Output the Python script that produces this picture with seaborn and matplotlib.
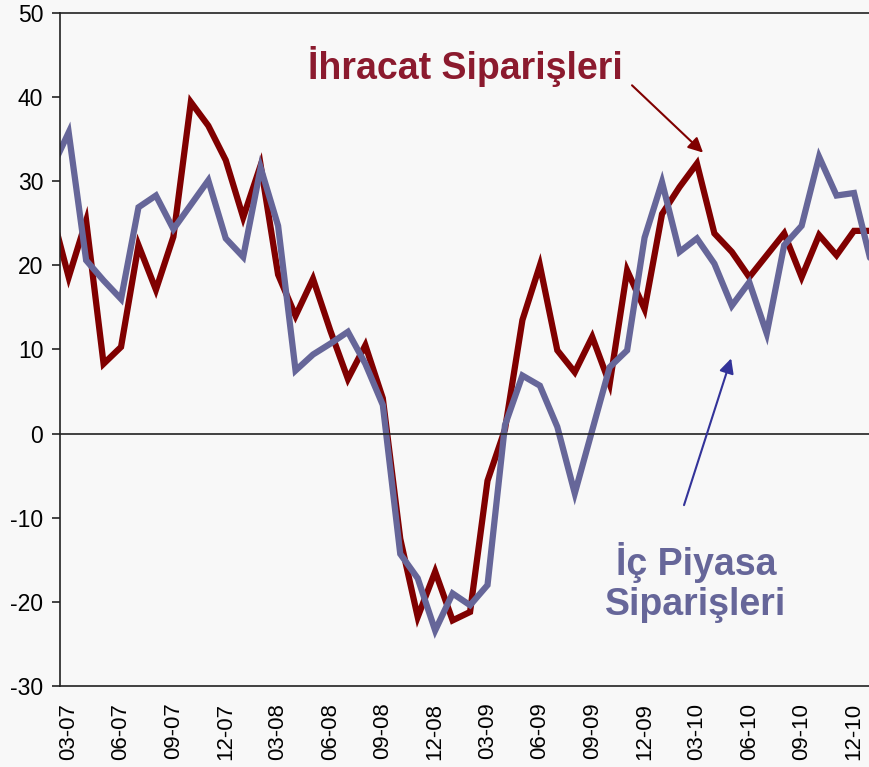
import matplotlib
matplotlib.use("Agg")
import matplotlib.pyplot as plt
import numpy as np
import pandas as pd
import seaborn as sns

# monthly categories, 02-07 .. 01-11 (first and last point fall just outside the view)
months = pd.date_range("2007-02-01", periods=48, freq="MS")
month_labels = list(months.strftime("%m-%y"))

ihracat = [26.5, 18.6, 25.3, 8.3, 10.3, 22.4, 17.1, 23.4, 39.4, 36.6,
           32.5, 25.7, 31.9, 18.9, 14.0, 18.4, 12.2, 6.5, 10.5, 4.2,
           -12.5, -21.8, -16.4, -22.2, -21.2, -5.6, 0.5, 13.5, 20.0, 9.9,
           7.3, 11.5, 5.9, 19.4, 14.8, 26.1, 29.3, 32.1, 23.8, 21.6,
           18.6, 21.2, 23.8, 18.6, 23.6, 21.2, 24.1, 24.1]
ic_piyasa = [31.4, 35.8, 20.6, 18.2, 16.0, 26.9, 28.3, 24.3, 27.2, 30.1,
             23.2, 21.0, 31.6, 24.7, 7.5, 9.4, 10.7, 12.1, 8.3, 3.4,
             -14.3, -17.2, -23.4, -19.0, -20.4, -18.0, 1.0, 6.9, 5.7, 0.8,
             -7.1, 0.4, 7.9, 9.9, 23.3, 29.9, 21.6, 23.2, 20.2, 15.2,
             18.0, 11.9, 22.4, 24.7, 32.9, 28.3, 28.6, 20.2]

series_names = ["İhracat Siparişleri", "İç Piyasa Siparişleri"]
red = "#800000"
blue = "#666699"
bg = "#f8f8f8"

df = pd.DataFrame({
    "idx": list(range(len(months))) * 2,
    "value": ihracat + ic_piyasa,
    "series": [series_names[0]] * len(months) + [series_names[1]] * len(months),
})

sns.set_style("white")
plt.rcParams["font.family"] = ["Liberation Sans", "DejaVu Sans"]
plt.rcParams["axes.unicode_minus"] = False

fig = plt.figure(figsize=(8.69, 7.67), dpi=100, facecolor=bg)
ax = fig.add_axes([0.069, 0.1056, 0.931, 0.8775])
ax.set_facecolor(bg)

sns.lineplot(data=df, x="idx", y="value", hue="series",
             palette={series_names[0]: red, series_names[1]: blue},
             linewidth=4.5, legend=False, sort=False, ax=ax)
for ln in ax.get_lines():
    ln.set_solid_joinstyle("miter")

ax.set_xlim(0.5, 46.86)
ax.set_ylim(-30, 50)
ax.set_yticks(np.arange(-30, 51, 10))
ax.set_xlabel("")
ax.set_ylabel("")

# category axis crosses at zero, ticks between categories
label_pos = [i for i, m in enumerate(months) if m.month in (3, 6, 9, 12)]
ax.spines["bottom"].set_position(("data", 0))
ax.spines["right"].set_visible(False)
for s in ["bottom", "left", "top"]:
    ax.spines[s].set_color("#222222")
    ax.spines[s].set_linewidth(1.2)
ax.set_xticks([p - 0.5 for p in label_pos])
ax.tick_params(axis="x", direction="out", length=6, width=1.2, color="#222222",
               labelbottom=False)
ax.tick_params(axis="y", direction="out", length=6, width=1.2, color="#222222",
               labelsize=16.5, labelcolor="black", pad=6, left=True)

sec = ax.secondary_xaxis("bottom")
sec.set_xticks(label_pos, [month_labels[p] for p in label_pos])
sec.tick_params(length=0, labelsize=16, labelcolor="black", pad=12, labelrotation=90)
sec.spines["bottom"].set_color("#222222")
sec.spines["bottom"].set_linewidth(1.2)

ax.text(23.71, 42.1, "İhracat Siparişleri", color="#8b1a2e", fontsize=27,
        fontweight="bold", ha="center", va="baseline")
ax.annotate("", xy=(37.35, 33.4), xytext=(33.28, 41.4),
            arrowprops=dict(arrowstyle="-|>", color=red, lw=1.5,
                            mutation_scale=22, shrinkA=0, shrinkB=0))
ax.text(36.95, -21.6, "İç Piyasa\nSiparişleri", color=blue, fontsize=27,
        fontweight="bold", ha="center", va="baseline", multialignment="center",
        linespacing=1.17)
ax.annotate("", xy=(38.96, 8.94), xytext=(36.26, -8.5),
            arrowprops=dict(arrowstyle="-|>", color="#333399", lw=1.5,
                            mutation_scale=22, shrinkA=0, shrinkB=0))

fig.savefig("out.png", dpi=100, facecolor=bg)
